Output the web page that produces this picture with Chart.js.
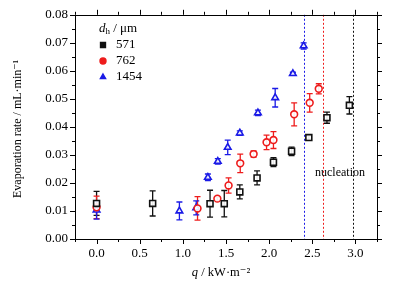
<!DOCTYPE html>
<html>
<head>
<meta charset="utf-8">
<script src="https://cdn.jsdelivr.net/npm/chart.js@4/dist/chart.umd.min.js"></script>
<style>html,body{margin:0;padding:0;background:#fff;}canvas{display:block;}</style>
</head>
<body>
<canvas id="c" width="402" height="287"></canvas>
<script>
// ---- data ----
const seriesNames = ['571', '762', '1454'];
const qBlack = [0.0, 0.65, 1.315, 1.48, 1.66, 1.86, 2.05, 2.26, 2.46, 2.67, 2.93];
const rateBlack = [0.0127, 0.0127, 0.0126, 0.0126, 0.0168, 0.0218, 0.0274, 0.0313, 0.0362, 0.0433, 0.0477];
const errBlack = [0.0043, 0.0045, 0.0048, 0.0047, 0.0025, 0.0025, 0.0016, 0.0015, 0.0006, 0.0020, 0.0031];
const qRed = [0.0, 1.17, 1.40, 1.53, 1.665, 1.82, 1.97, 2.05, 2.29, 2.47, 2.575];
const rateRed = [0.0113, 0.0109, 0.0144, 0.0191, 0.0270, 0.0303, 0.0345, 0.0353, 0.0445, 0.0486, 0.0536];
const errRed = [0.0040, 0.0042, 0.0006, 0.0027, 0.0033, 0.0011, 0.0026, 0.0030, 0.0041, 0.0033, 0.0018];
const qBlue = [0.0, 0.96, 1.155, 1.29, 1.405, 1.52, 1.66, 1.87, 2.07, 2.275, 2.40];
const rateBlue = [0.0103, 0.0100, 0.0111, 0.0220, 0.0277, 0.0327, 0.0378, 0.0450, 0.0504, 0.0590, 0.0689];
const errBlue = [0.0032, 0.0032, 0.0025, 0.0012, 0.0010, 0.0026, 0.0008, 0.0010, 0.0033, 0.0005, 0.0011];
const nucleationQ = [2.40, 2.62, 2.97];
const xTickLabels = ['0.0', '0.5', '1.0', '1.5', '2.0', '2.5', '3.0'];
const yTickLabels = ['0.00', '0.01', '0.02', '0.03', '0.04', '0.05', '0.06', '0.07', '0.08'];

const colBlack = '#111111', colRed = '#ee1c1c', colBlue = '#1a1ae6';
const FONT = '"Liberation Serif", "DejaVu Serif", serif';

function pts(xs, ys) { return xs.map((x, i) => ({ x: x, y: ys[i] })); }

const errs = [errBlack, errRed, errBlue];

const errorBarPlugin = {
  id: 'errorBars',
  beforeDatasetsDraw(chart) {
    const ctx = chart.ctx, xs = chart.scales.x, ys = chart.scales.y, ca = chart.chartArea;
    ctx.save();
    const lc = [colBlue, colRed, colBlack];
    nucleationQ.forEach((q, i) => {
      const px = Math.round(xs.getPixelForValue(q)) + 0.5;
      ctx.strokeStyle = lc[i];
      ctx.lineWidth = 1;
      ctx.setLineDash([2, 2]);
      ctx.beginPath(); ctx.moveTo(px, ca.top); ctx.lineTo(px, ca.bottom); ctx.stroke();
    });
    ctx.setLineDash([]);
    chart.data.datasets.forEach((ds, di) => {
      ctx.strokeStyle = ds.errColor;
      ctx.lineWidth = 1.3;
      ds.data.forEach((p, i) => {
        const e = errs[di][i];
        const px = xs.getPixelForValue(p.x);
        const yt = ys.getPixelForValue(p.y + e), yb = ys.getPixelForValue(p.y - e);
        ctx.beginPath();
        ctx.moveTo(px, yt); ctx.lineTo(px, yb);
        ctx.moveTo(px - 3, yt); ctx.lineTo(px + 3, yt);
        ctx.moveTo(px - 3, yb); ctx.lineTo(px + 3, yb);
        ctx.stroke();
      });
    });
    ctx.restore();
  },
  afterDraw(chart) {
    const ctx = chart.ctx, xs = chart.scales.x, ys = chart.scales.y, ca = chart.chartArea;
    ctx.save();
    ctx.strokeStyle = '#000';
    ctx.lineWidth = 1;
    ctx.strokeRect(Math.round(ca.left) + 0.5, Math.round(ca.top) + 0.5, Math.round(ca.right - ca.left), Math.round(ca.bottom - ca.top));
    for (let k = -1; k <= 13; k++) {
      const v = k * 0.25;
      const px = Math.round(xs.getPixelForValue(v)) + 0.5;
      const L = (k % 2 === 0) ? 5 : 3;
      ctx.beginPath();
      ctx.moveTo(px, ca.bottom); ctx.lineTo(px, ca.bottom + L);
      ctx.moveTo(px, ca.top); ctx.lineTo(px, ca.top - L);
      ctx.stroke();
    }
    for (let k = 0; k <= 16; k++) {
      const v = k * 0.005;
      const py = Math.round(ys.getPixelForValue(v)) + 0.5;
      const L = (k % 2 === 0) ? 5 : 3;
      ctx.beginPath();
      ctx.moveTo(ca.left, py); ctx.lineTo(ca.left - L, py);
      ctx.moveTo(ca.right, py); ctx.lineTo(ca.right + L, py);
      ctx.stroke();
    }
    ctx.fillStyle = '#000';
    ctx.font = '12px ' + FONT;
    ctx.textAlign = 'left'; ctx.textBaseline = 'middle';
    ctx.fillText('nucleation', 315, 173);
    ctx.font = '12px ' + FONT;
    ctx.save();
    ctx.translate(18, (ca.top + ca.bottom) / 2 + 2);
    ctx.rotate(-Math.PI / 2);
    ctx.textAlign = 'center';
    ctx.fillText('Evaporation rate / mL·min⁻¹', 0, 0);
    ctx.restore();
    ctx.textAlign = 'left';
    const cx = 221, cy = 273;
    ctx.font = 'italic 12.5px ' + FONT;
    const wq = ctx.measureText('q').width;
    ctx.font = '12.5px ' + FONT;
    const rest = ' / kW·m⁻²';
    const wr = ctx.measureText(rest).width;
    const x0 = cx - (wq + wr) / 2;
    ctx.font = 'italic 12.5px ' + FONT;
    ctx.fillText('q', x0, cy);
    ctx.font = '12.5px ' + FONT;
    ctx.fillText(rest, x0 + wq, cy);
    ctx.font = 'italic 13px ' + FONT;
    ctx.fillText('d', 99, 29);
    const wd = ctx.measureText('d').width;
    ctx.font = '9px ' + FONT;
    ctx.fillText('h', 99 + wd, 32);
    const wh = ctx.measureText('h').width;
    ctx.font = '13px ' + FONT;
    ctx.fillText(' / μm', 99 + wd + wh, 29);
    const ly = [45, 61, 77];
    const cols = [colBlack, colRed, colBlue];
    const styles = ['rect', 'circle', 'triangle'];
    seriesNames.forEach((n, i) => {
      ctx.font = '13px ' + FONT;
      ctx.fillStyle = '#000';
      ctx.fillText(n, 116, ly[i]);
      ctx.fillStyle = cols[i];
      ctx.strokeStyle = cols[i];
      ctx.lineWidth = 1.4;
      Chart.helpers.drawPoint(ctx, { pointStyle: styles[i], radius: styles[i] === 'rect' ? 3.5 : 3, borderWidth: 1.4 }, 103, ly[i]);
    });
    ctx.restore();
  }
};

const mk = (label, xs, ys, col, style, r) => ({
  label: label,
  data: pts(xs, ys),
  pointStyle: style,
  pointRadius: r,
  pointBorderWidth: 1.6,
  borderColor: col,
  backgroundColor: 'rgba(255,255,255,0.9)',
  pointBackgroundColor: 'rgba(255,255,255,0.9)',
  pointBorderColor: col,
  errColor: col,
  showLine: false
});

new Chart(document.getElementById('c'), {
  type: 'scatter',
  data: {
    datasets: [
      mk(seriesNames[0], qBlack, rateBlack, colBlack, 'rect', 4.2),
      mk(seriesNames[1], qRed, rateRed, colRed, 'circle', 3.4),
      mk(seriesNames[2], qBlue, rateBlue, colBlue, 'triangle', 3.8)
    ]
  },
  options: {
    responsive: false,
    animation: false,
    devicePixelRatio: 1,
    layout: { padding: { left: 0, right: 25, top: 13, bottom: 0 } },
    plugins: { legend: { display: false }, tooltip: { enabled: false } },
    scales: {
      x: {
        type: 'linear', min: -0.25, max: 3.25,
        grid: { display: false, drawTicks: false },
        border: { display: false },
        afterBuildTicks: (s) => { s.ticks = xTickLabels.map(t => ({ value: parseFloat(t) })); },
        afterFit: (s) => { s.height = 48; },
        ticks: {
          padding: 7, color: '#000', maxRotation: 0,
          font: { family: FONT, size: 13 },
          callback: (v) => Number(v).toFixed(1)
        }
      },
      y: {
        type: 'linear', min: 0, max: 0.08,
        grid: { display: false, drawTicks: false },
        border: { display: false },
        afterBuildTicks: (s) => { s.ticks = yTickLabels.map(t => ({ value: parseFloat(t) })); },
        afterFit: (s) => { s.width = 75; },
        ticks: {
          padding: 7, color: '#000',
          font: { family: FONT, size: 13 },
          callback: (v) => Number(v).toFixed(2)
        }
      }
    }
  },
  plugins: [errorBarPlugin]
});
</script>
</body>
</html>
